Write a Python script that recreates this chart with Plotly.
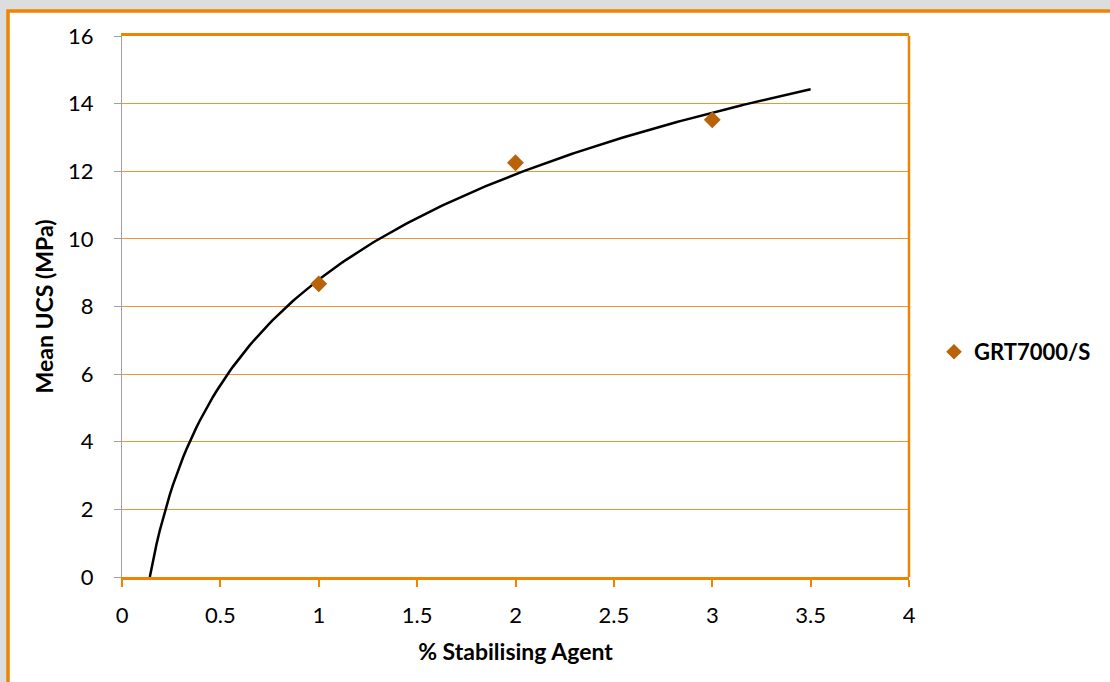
import numpy as np
import plotly.graph_objects as go

# Data
agent_pct = [1, 2, 3]
mean_ucs = [8.67, 12.25, 13.52]
series_name = "GRT7000/S"
x_ticks = [0, 0.5, 1, 1.5, 2, 2.5, 3, 3.5, 4]
y_ticks = [0, 2, 4, 6, 8, 10, 12, 14, 16]
trend_end = 3.5

# Logarithmic trendline fitted to the data (as in the spreadsheet)
lnx = np.log(np.array(agent_pct, dtype=float))
a, b = np.polyfit(lnx, np.array(mean_ucs), 1)
x_start = np.exp(-b / a)
tx = np.linspace(x_start, trend_end, 200)
ty = a * np.log(tx) + b

ORANGE = "#EE8400"
GRID = "#EE9630"
FONT = "Lato"

W, H = 1110, 682
L, R, T, B = 122, 201, 36, 105
pw, ph = W - L - R, H - T - B

def px(x):
    return (x - L) / pw

def py(y):
    return (H - B - y) / ph

fig = go.Figure()
fig.add_trace(go.Scatter(x=tx, y=ty, mode="lines", line=dict(color="black", width=2.5),
                         showlegend=False, hoverinfo="skip"))
fig.add_trace(go.Scatter(x=agent_pct, y=mean_ucs, mode="markers", name=series_name,
                         marker=dict(symbol="diamond", size=13, color="#B8620A")))

fig.add_shape(type="rect", xref="paper", yref="paper", x0=px(8), x1=px(1125), y0=py(700), y1=py(11),
              line=dict(color=ORANGE, width=3.5), fillcolor="white", layer="below")
fig.add_shape(type="line", xref="paper", yref="paper", x0=1, x1=1, y0=0, y1=1,
              line=dict(color=ORANGE, width=2.5))

fig.update_layout(
    width=W, height=H,
    margin=dict(l=L, r=R, t=T, b=B, autoexpand=False),
    paper_bgcolor="#DCDDDF",
    plot_bgcolor="white",
    font=dict(family=FONT, size=22, color="black"),
    legend=dict(x=px(934), y=py(352), yanchor="middle", xanchor="left",
                font=dict(family=FONT, size=22, color="black", weight="bold"),
                bgcolor="rgba(0,0,0,0)", itemsizing="constant", itemwidth=30),
)
fig.update_xaxes(range=[0, 4], tickvals=x_ticks, ticktext=[f"{v:g}" for v in x_ticks],
                 showgrid=False, zeroline=False,
                 showline=True, linecolor=ORANGE, linewidth=2.5, mirror=True,
                 ticks="outside", tickcolor=ORANGE, ticklen=7, tickwidth=1.5,
                 ticklabelstandoff=10,
                 title=dict(text="% Stabilising Agent", standoff=17,
                            font=dict(family=FONT, size=23, weight="bold")))
fig.update_yaxes(range=[0, 16], tickvals=y_ticks,
                 showgrid=True, gridcolor=GRID, gridwidth=1.2, zeroline=False,
                 showline=True, linecolor="#A0A0A0", linewidth=1,
                 ticks="outside", tickcolor="#A0A0A0", ticklen=7,
                 ticklabelstandoff=16,
                 title=dict(text="Mean UCS (MPa)", standoff=8,
                            font=dict(family=FONT, size=23, weight="bold")))

fig.write_html("out.html", config={"displayModeBar": False},
               post_script="document.body.style.margin='0';document.body.style.overflow='hidden';")
